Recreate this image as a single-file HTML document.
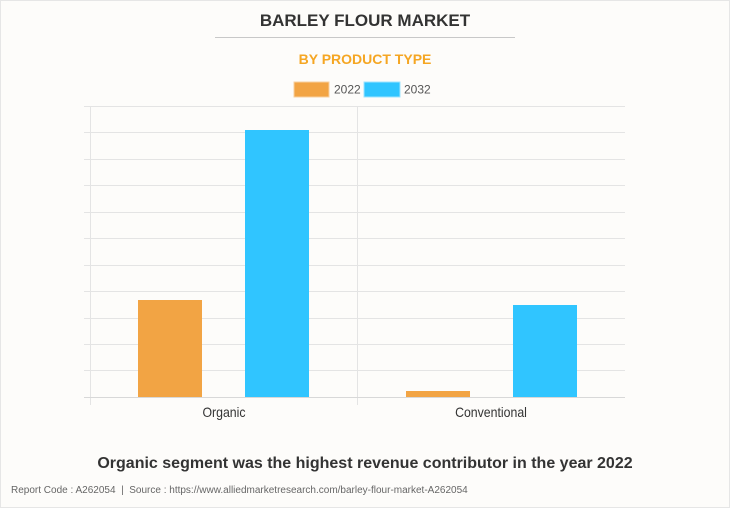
<!DOCTYPE html>
<html><head><style>
body{margin:0;width:730px;height:508px;background:#fdfcfa;font-family:"Liberation Sans",sans-serif;overflow:hidden;position:relative}
.frame{position:absolute;left:0;top:0;width:728px;height:506px;border:1px solid #e6e6e6}
.t{position:absolute;left:0;width:730px;text-align:center}
</style></head><body>
<div class="frame"></div>
<div class="t" style="top:11px;font-size:17px;font-weight:bold;color:#333">BARLEY FLOUR MARKET</div>
<div style="position:absolute;left:215px;top:37px;width:300px;height:1px;background:#c8c8c8"></div>
<div class="t" style="top:51px;font-size:14px;font-weight:bold;color:#f5a623">BY PRODUCT TYPE</div>
<svg style="position:absolute;left:0;top:0" width="730" height="508">
<rect x="294" y="82" width="35" height="15" fill="#f2a444" stroke="#f8d0a0"/>
<text x="334" y="93.5" font-size="12" fill="#555" font-family="Liberation Sans">2022</text>
<rect x="364" y="82" width="36" height="15" fill="#30c5ff" stroke="#a0e4ff"/>
<text x="404" y="93.5" font-size="12" fill="#555" font-family="Liberation Sans">2032</text>
<g stroke="#e4e4e4" stroke-width="1">
<line x1="84" x2="625" y1="106.5" y2="106.5"/><line x1="84" x2="625" y1="132.5" y2="132.5"/>
<line x1="84" x2="625" y1="159.5" y2="159.5"/><line x1="84" x2="625" y1="185.5" y2="185.5"/>
<line x1="84" x2="625" y1="212.5" y2="212.5"/><line x1="84" x2="625" y1="238.5" y2="238.5"/>
<line x1="84" x2="625" y1="265.5" y2="265.5"/><line x1="84" x2="625" y1="291.5" y2="291.5"/>
<line x1="84" x2="625" y1="318.5" y2="318.5"/><line x1="84" x2="625" y1="344.5" y2="344.5"/>
<line x1="84" x2="625" y1="370.5" y2="370.5"/>
<line x1="90.5" x2="90.5" y1="106" y2="405"/><line x1="357.5" x2="357.5" y1="106" y2="405"/>
</g>
<line x1="84" x2="625" y1="397.5" y2="397.5" stroke="#d8d8d8"/>
<rect x="138" y="300" width="64" height="97" fill="#f2a444"/>
<rect x="245" y="130" width="64" height="267" fill="#30c5ff"/>
<rect x="406" y="391" width="64" height="6" fill="#f2a444"/>
<rect x="513" y="305" width="64" height="92" fill="#30c5ff"/>
<text x="224" y="417" font-size="14" fill="#333" text-anchor="middle" font-family="Liberation Sans" transform="translate(224 0) scale(0.88 1) translate(-224 0)">Organic</text>
<text x="491" y="417" font-size="14" fill="#333" text-anchor="middle" font-family="Liberation Sans" transform="translate(491 0) scale(0.88 1) translate(-491 0)">Conventional</text>
</svg>
<div class="t" style="top:455px;font-size:16px;font-weight:bold;color:#333">Organic segment was the highest revenue contributor in the year 2022</div>
<div style="position:absolute;left:11px;top:485px;font-size:10px;color:#666">Report Code : A262054 &nbsp;|&nbsp; Source : https://www.alliedmarketresearch.com/barley-flour-market-A262054</div>
</body></html>
